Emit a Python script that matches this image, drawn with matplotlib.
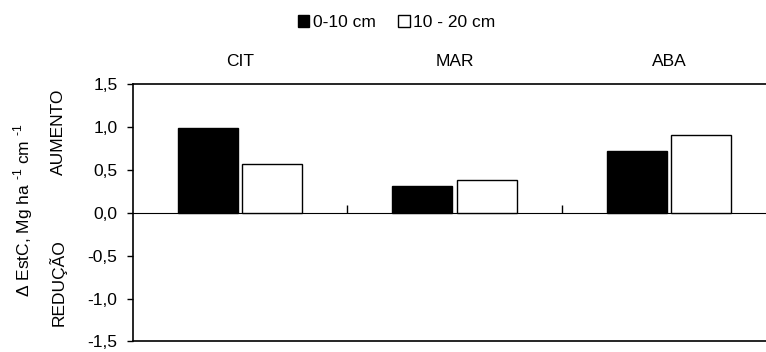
import matplotlib
matplotlib.use("Agg")
import matplotlib.pyplot as plt
from matplotlib.ticker import FuncFormatter
import numpy as np

plt.rcParams['font.family'] = ['Liberation Sans', 'DejaVu Sans']
plt.rcParams['font.size'] = 12.5
plt.rcParams['mathtext.fontset'] = 'custom'
plt.rcParams['mathtext.rm'] = 'Liberation Sans'

categories = ["CIT", "MAR", "ABA"]
depth_0_10 = [0.99, 0.31, 0.72]
depth_10_20 = [0.57, 0.38, 0.90]
series_labels = ["0-10 cm", "10 - 20 cm"]
y_ticks = [-1.5, -1.0, -0.5, 0.0, 0.5, 1.0, 1.5]

fig = plt.figure(figsize=(7.66, 3.52), dpi=100, facecolor='w')
# axes runs a bit past the right edge of the picture, like the original
ax = fig.add_axes([0.1732, 0.0301, 0.84, 0.7313])

x = np.arange(len(categories))
w = 0.28
b1 = ax.bar(x - 0.15, depth_0_10, w, color='black', edgecolor='black', linewidth=1,
            label=series_labels[0])
b2 = ax.bar(x + 0.15, depth_10_20, w, color='white', edgecolor='black', linewidth=1,
            label=series_labels[1])

ax.set_xlim(-0.5, 2.5)
ax.set_ylim(-1.5, 1.5)
ax.set_yticks(y_ticks)
ax.yaxis.set_major_formatter(FuncFormatter(lambda v, p: ("%.1f" % v).replace('.', ',')))
ax.tick_params(axis='y', direction='out', length=4.5, width=1, pad=6.5)
ax.set_xticks([])
for s in ['left', 'top', 'bottom', 'right']:
    ax.spines[s].set_linewidth(1.2)

# zero line with the category separator ticks
zero = ax.secondary_xaxis(0.5)
zero.set_xticks([0.5, 1.5, 2.5])
zero.set_xticklabels([])
zero.tick_params(direction='out', length=6, width=1)
zero.spines['bottom'].set_linewidth(1.2)

for i, c in enumerate(categories):
    ax.text(i, 1.089, c, transform=ax.get_xaxis_transform(), ha='center', va='center')

fig.legend(handles=[b1, b2], labels=series_labels, loc='center', bbox_to_anchor=(0.518, 0.935),
           ncol=2, frameon=False, handlelength=0.65, handleheight=0.65, handletextpad=0.2,
           columnspacing=1.3, borderpad=0)

fig.text(23 / 766, 1 - 210 / 352, r"Δ EstC, Mg ha $^{\text{-1}}$ cm $^{\text{-1}}$", rotation=90,
         ha='center', va='center')
fig.text(58 / 766, 1 - 132 / 352, "AUMENTO", rotation=90, ha='center', va='center')
fig.text(58 / 766, 1 - 283 / 352, "REDUÇÃO", rotation=90, ha='center', va='center')

fig.savefig("out.png", dpi=100)
